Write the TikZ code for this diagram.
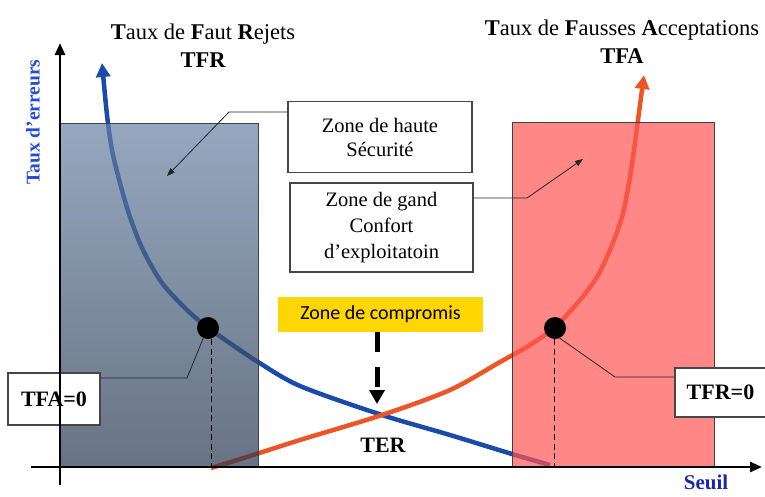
\documentclass[tikz,border=0pt]{standalone}
\usepackage{fontspec}
\setmainfont{Liberation Serif}
\newfontfamily\calib{Carlito}
\usetikzlibrary{arrows.meta}
\definecolor{bluec}{RGB}{25,75,170}
\definecolor{orangec}{RGB}{238,85,38}
\definecolor{leftTop}{RGB}{105,131,165}
\definecolor{leftBot}{RGB}{40,55,78}
\definecolor{rightc}{RGB}{255,84,81}
\definecolor{yellowc}{RGB}{255,214,0}
\definecolor{boxline}{RGB}{70,70,70}
\definecolor{txtblue}{RGB}{40,75,215}
\definecolor{txtblue2}{RGB}{25,40,170}
\tikzset{
  curve/.style={line width=4.5pt, smooth, tension=0.5},
  zbox/.style={draw=boxline, line width=1.2pt, fill=white, align=center, inner sep=0pt},
  boxfont/.style={font=\fontsize{20.5}{24}\selectfont},
  dotn/.style={circle, fill=black, minimum size=22pt, inner sep=0pt},
  conn/.style={draw=black!85, line width=0.8pt},
  axisline/.style={line width=2.6pt, -{Triangle[length=12pt,width=10pt]}},
  rectborder/.style={draw=black!75, line width=1pt},
}
\begin{document}
\begin{tikzpicture}[x=1pt,y=-1pt]
\useasboundingbox (0,0) rectangle (765,496);
% curves
\draw[curve, bluec, -{Triangle[length=14pt,width=14pt]}] plot coordinates {(550,465) (512,454) (450,435) (382,415) (300,386) (258,362) (237,348) (207,327) (187,310) (162,283) (143,250) (130,217) (120,183) (112,150) (107,115) (102,63)};
\draw[curve, orangec, -{Triangle[length=14pt,width=14pt]}] plot coordinates {(211,468) (250,456) (300,440) (382,415) (450,390) (500,362) (530,345) (555,327) (580,300) (597,277) (610,250) (622,217) (629,183) (634,150) (638,120) (644,75)};
% zones (overlay)
\shade[top color=leftTop, bottom color=leftBot, fill opacity=0.7] (60,123) rectangle (258,467);
\draw[rectborder] (60,123) rectangle (258,467);
\fill[rightc, fill opacity=0.7] (512,122) rectangle (714,467);
\draw[rectborder] (512,122) rectangle (714,467);
% titles
\node[font=\fontsize{22.5}{28}\selectfont, align=center] (t1) at (203,46) {{\bfseries T}aux de {\bfseries F}aut {\bfseries R}ejets\\\bfseries TFR};
\node[font=\fontsize{22.5}{28}\selectfont, align=center] (t2) at (622,42) {{\bfseries T}aux de {\bfseries F}ausses {\bfseries A}cceptations\\\bfseries TFA};
\node[font=\fontsize{19.5}{22}\selectfont\bfseries, text=txtblue, rotate=90] (yl) at (33,122) {Taux d’erreurs};
\node[font=\fontsize{21}{24}\selectfont\bfseries, text=txtblue2, inner sep=0pt] (xl) at (706,482) {Seuil};
% dots and dashed
\node[dotn] (dL) at (208,328) {};
\node[dotn] (dR) at (555,328) {};
\coordinate (bL) at (211,467);
\coordinate (bR) at (554,467);
\draw[line width=0.9pt, dash pattern=on 6pt off 3.5pt] (dL.south -| bL) -- (bL);
\draw[line width=0.9pt, dash pattern=on 6pt off 3.5pt] (dR.south -| bR) -- (bR);
% boxes
\node[zbox, boxfont, minimum width=184pt, minimum height=71pt] (hs) at (380,137) {Zone de haute\\Sécurité};
\node[zbox, font=\fontsize{20.5}{26}\selectfont, minimum width=183pt, minimum height=89pt] (cf) at (381.5,227.5) {Zone de gand\\Confort\\d’exploitatoin};
\node[zbox, font=\fontsize{22}{26}\selectfont\bfseries, minimum width=92pt, minimum height=52pt] (tfa) at (54,399) {TFA=0};
\node[zbox, font=\fontsize{22}{26}\selectfont\bfseries, minimum width=91pt, minimum height=49pt] (tfr) at (720.5,392.5) {TFR=0};
\node[fill=yellowc, font=\calib\fontsize{20}{24}\selectfont, minimum width=205pt, minimum height=35pt, inner sep=0pt] (yc) at (380.5,314.5) {Zone de compromis};
\node[font=\fontsize{22}{26}\selectfont\bfseries] (ter) at (383,445) {TER};
% connectors
\coordinate (c1) at (187,378);
\draw[conn] (tfa.east |- c1) -- (c1) -- (dL.245);
\coordinate (c2) at (615,377);
\draw[conn] (tfr.west |- c2) -- (c2) -- (dR.295);
\coordinate (c3) at (229,112);
\coordinate (a3) at (167,176);
\draw[conn, -{Triangle[length=8pt,width=6pt]}] (hs.west |- c3) -- (c3) -- (a3);
\coordinate (c4) at (527,198);
\coordinate (a4) at (583,159);
\draw[conn, -{Triangle[length=8pt,width=6pt]}] (cf.east |- c4) -- (c4) -- (a4);
\coordinate (cross) at (377,404);
\draw[line width=5pt, dash pattern=on 20pt off 15pt, -{Triangle[length=14pt,width=15pt]}] (yc.south -| cross) -- (cross);
% axes
\draw[axisline] (31,467) -- (762,467);
\draw[axisline] (60,485) -- (60,43);
\end{tikzpicture}
\end{document}
